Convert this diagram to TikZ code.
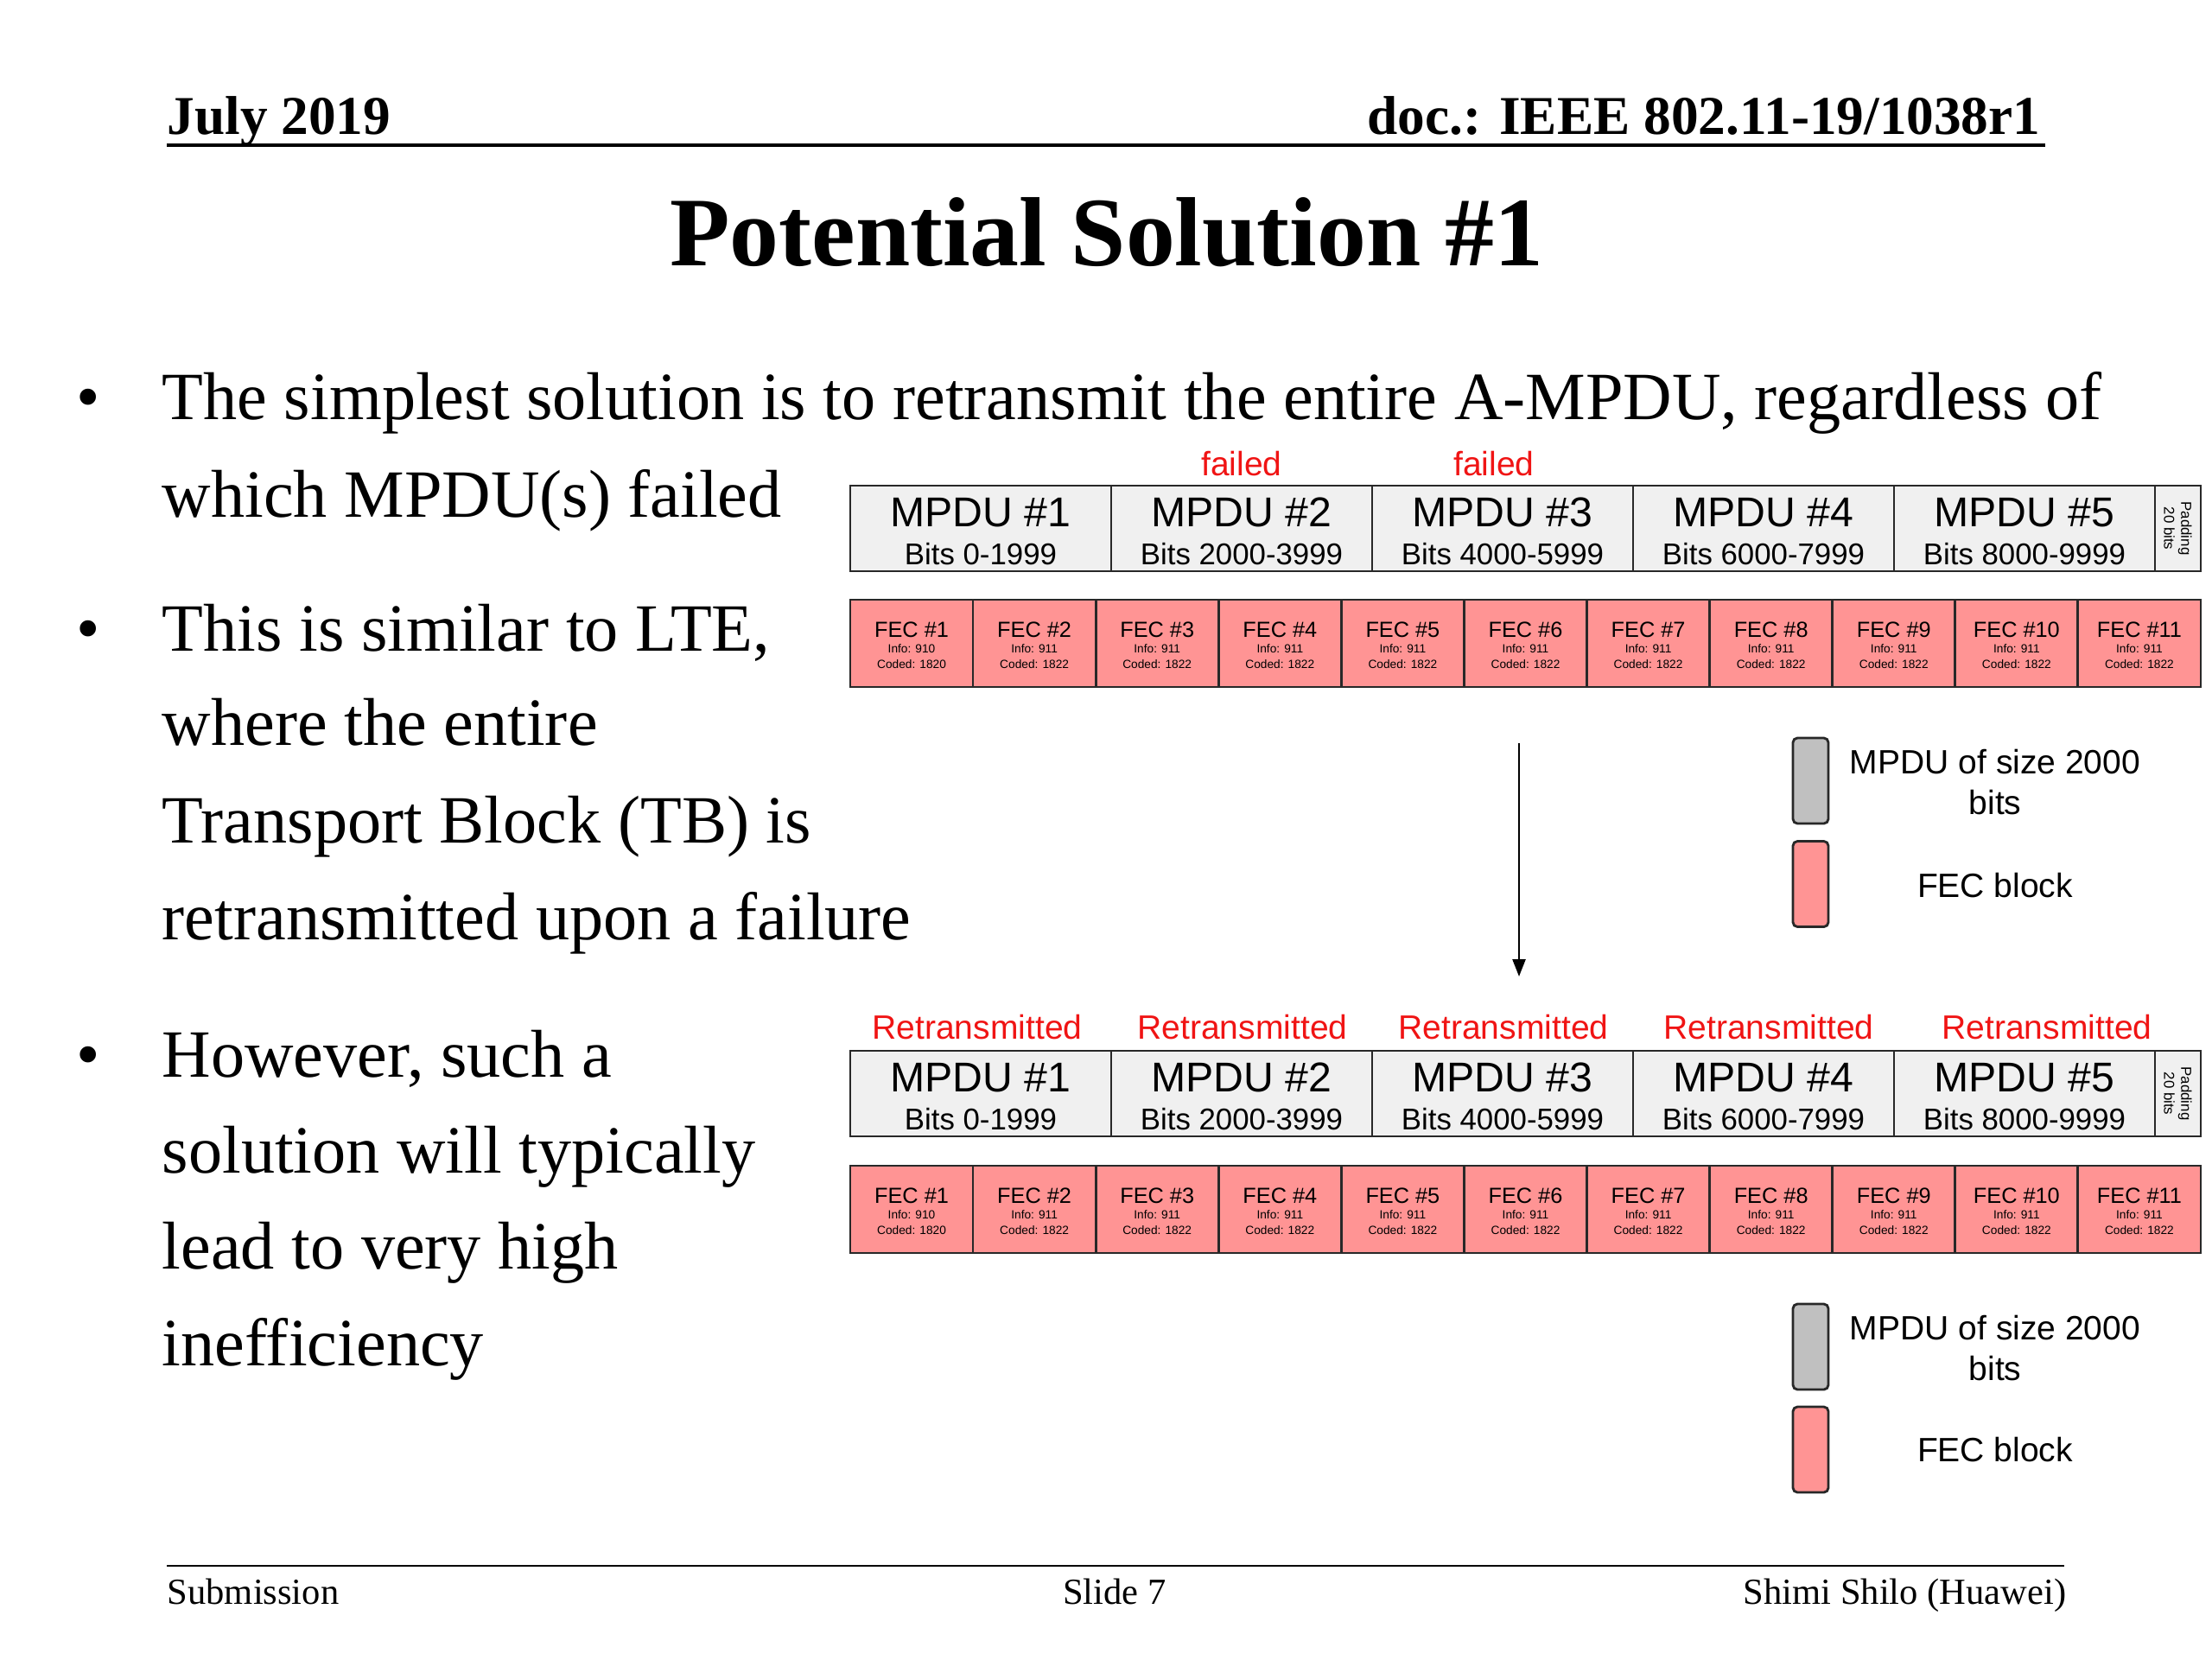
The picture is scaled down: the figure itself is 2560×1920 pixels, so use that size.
\documentclass[tikz,border=0pt]{standalone}
\usepackage{fontspec}
\setmainfont{Liberation Serif}
\newfontfamily\arialf{Liberation Sans}
\usetikzlibrary{arrows.meta}
\definecolor{mpdugray}{RGB}{240,240,240}
\definecolor{fecpink}{RGB}{255,148,148}
\definecolor{leggray}{RGB}{192,192,192}
\definecolor{redlbl}{RGB}{240,20,20}
\definecolor{edgec}{RGB}{40,40,40}

\newcommand\drawmpdurow[2]{%
  \foreach \i in {1,...,5}{
    \pgfmathsetmacro\cx{984+302*(\i-0.5)}
    \pgfmathtruncatemacro\lo{2000*(\i-1)}
    \pgfmathtruncatemacro\hi{2000*\i-1}
    \node[mbox, minimum width=3.02cm] (#1\i) at (\cx, #2+49.5) {};
    \node[mtitle] (#1t\i) at (\cx, #2+47) {MPDU \#\i};
    \node[mbits] (#1b\i) at (\cx, #2+91.5) {Bits \lo-\hi};
  }
  \node[mbox, minimum width=0.53cm] (#1pad) at (2520.5, #2+49.5) {};
  \node[padtext] (#1padt) at (#1pad.center) {Padding\\20 bits};
}

\newcommand\drawfecrow[2]{%
  \foreach \j in {1,...,11}{
    \pgfmathsetmacro\cx{984+142.09*(\j-0.5)}
    \ifnum\j=1 \def\fecinf{910}\def\feccod{1820}\else \def\fecinf{911}\def\feccod{1822}\fi
    \node[fbox] (#1\j) at (\cx, #2+50.5) {};
    \node[ftitle] (#1t\j) at (\cx, #2+43) {FEC \#\j};
    \node[finfo] (#1i\j) at (\cx, #2+61.7) {Info: \fecinf};
    \node[finfo] (#1c\j) at (\cx, #2+79) {Coded: \feccod};
  }
}

\begin{document}
\begin{tikzpicture}[x=0.01cm,y=-0.01cm,
  mbox/.style={draw=edgec, line width=0.8pt, fill=mpdugray, inner sep=0pt, outer sep=0pt, minimum height=0.99cm},
  fbox/.style={draw=edgec, line width=0.8pt, fill=fecpink, inner sep=0pt, outer sep=0pt, minimum height=1.01cm, minimum width=1.4209cm},
  mtitle/.style={font=\arialf\fontsize{13.7}{16}\selectfont, anchor=base, inner sep=0pt},
  mbits/.style={font=\arialf\fontsize{9.9}{12}\selectfont, anchor=base, inner sep=0pt},
  ftitle/.style={font=\arialf\fontsize{7.2}{9}\selectfont, anchor=base, inner sep=0pt},
  finfo/.style={font=\arialf\fontsize{3.9}{5}\selectfont, anchor=base, inner sep=0pt},
  padtext/.style={font=\arialf\fontsize{4.8}{5.6}\selectfont, rotate=-90, align=center, inner sep=0pt},
  redtext/.style={font=\arialf\fontsize{11.1}{13}\selectfont, text=redlbl, anchor=base, inner sep=0pt},
  legbox/.style={draw=edgec, line width=0.8pt, rounded corners=1.5pt, inner sep=0pt, minimum width=0.41cm, minimum height=0.99cm},
  legtext/.style={font=\arialf\fontsize{11.1}{13.4}\selectfont, align=center, inner sep=0pt},
  body/.style={font=\fontsize{22.25}{26}\selectfont, anchor=base west, inner sep=0pt},
  hdr/.style={font=\bfseries\fontsize{18}{22}\selectfont, inner sep=0pt},
  ftr/.style={font=\fontsize{12.1}{14}\selectfont, inner sep=0pt}
]
\useasboundingbox[fill=white] (0,0) rectangle (2560,1920);

% header
\node[hdr, anchor=base west] (hdate) at (193,155) {July 2019};
\node[hdr, anchor=base east] (hdoc) at (2362,155) {doc.: IEEE 802.11-19/1038r1};
\coordinate (hl1) at (193,168);
\coordinate (hl2) at (2367,168);
\draw[line width=1.1pt] (hl1) -- (hl2);

% title
\node[font=\bfseries\fontsize{32.35}{38}\selectfont, anchor=base, inner sep=0pt] (title) at (1281,307) {Potential Solution \#1};

% body text
\node[body] (b1) at (88,485) {•};
\node[body] (t1) at (187,485) {The simplest solution is to retransmit the entire A-MPDU, regardless of};
\node[body] (t2) at (187,598) {which MPDU(s) failed};
\node[body] (b2) at (88,753) {•};
\node[body] (t3) at (187,753) {This is similar to LTE,};
\node[body] (t4) at (187,862) {where the entire};
\node[body] (t5) at (187,975) {Transport Block (TB) is};
\node[body] (t6) at (187,1087) {retransmitted upon a failure};
\node[body] (b3) at (88,1246) {•};
\node[body] (t7) at (187,1246) {However, such a};
\node[body] (t8) at (187,1357) {solution will typically};
\node[body] (t9) at (187,1468) {lead to very high};
\node[body] (t10) at (187,1580) {inefficiency};

% top diagram
\node[redtext] (fail2) at (1437,550) {failed};
\node[redtext] (fail3) at (1729,550) {failed};
\drawmpdurow{ma}{562}
\drawfecrow{fa}{694}

% arrow
\coordinate (arrS) at (1758,860);
\coordinate (arrE) at (1758,1130);
\draw[line width=0.7pt, -{Triangle[length=0.2cm, width=0.15cm]}] (arrS) -- (arrE);

% legend 1
\node[legbox, fill=leggray] (lg1) at (2095.5,903.5) {};
\node[legtext] (lg1t) at (2309,905) {MPDU of size 2000\\bits};
\node[legbox, fill=fecpink] (lp1) at (2095.5,1023) {};
\node[legtext] (lp1t) at (2309,1025) {FEC block};

% bottom diagram
\node[redtext] (r1) at (1131,1202) {Retransmitted};
\node[redtext] (r2) at (1438,1202) {Retransmitted};
\node[redtext] (r3) at (1740,1202) {Retransmitted};
\node[redtext] (r4) at (2047,1202) {Retransmitted};
\node[redtext] (r5) at (2369,1202) {Retransmitted};
\drawmpdurow{mb}{1216}
\drawfecrow{fb}{1349}

% legend 2
\node[legbox, fill=leggray] (lg2) at (2095.5,1558.5) {};
\node[legtext] (lg2t) at (2309,1560) {MPDU of size 2000\\bits};
\node[legbox, fill=fecpink] (lp2) at (2095.5,1677.5) {};
\node[legtext] (lp2t) at (2309,1678) {FEC block};

% footer
\coordinate (fl1) at (193,1812);
\coordinate (fl2) at (2389,1812);
\draw[line width=0.8pt] (fl1) -- (fl2);
\node[ftr, anchor=base west] (fsub) at (193,1856) {Submission};
\node[ftr, anchor=base] (fslide) at (1290,1856) {Slide 7};
\node[ftr, anchor=base east] (fauth) at (2392,1856) {Shimi Shilo (Huawei)};
\end{tikzpicture}
\end{document}
